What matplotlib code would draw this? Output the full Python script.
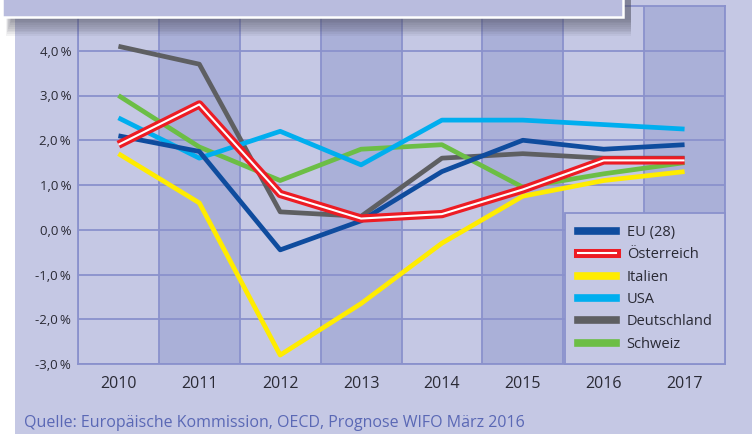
import numpy as np
import matplotlib
matplotlib.use('Agg')
import matplotlib.pyplot as plt
from matplotlib.lines import Line2D
from matplotlib.patches import Rectangle

plt.rcParams['font.family'] = ['Open Sans', 'DejaVu Sans']

# Daten: BIP-Wachstum in % gegenüber Vorjahr
jahre = ['2010', '2011', '2012', '2013', '2014', '2015', '2016', '2017']
eu = [2.1, 1.75, -0.45, 0.2, 1.3, 2.0, 1.8, 1.9]
oesterreich = [1.9, 2.8, 0.8, 0.25, 0.35, 0.9, 1.55, 1.55]
italien = [1.7, 0.6, -2.8, -1.65, -0.3, 0.75, 1.1, 1.3]
usa = [2.5, 1.6, 2.2, 1.45, 2.45, 2.45, 2.35, 2.25]
deutschland = [4.1, 3.7, 0.4, 0.3, 1.6, 1.7, 1.6, 1.6]
schweiz = [3.0, 1.85, 1.1, 1.8, 1.9, 0.95, 1.25, 1.5]
y_ticks = [-3, -2, -1, 0, 1, 2, 3, 4]

bg = '#C5C8E4'
dunkel = '#AAB0D8'
gitter = '#8A91CC'

fig = plt.figure(figsize=(7.52, 4.34), dpi=100)
fig.patch.set_facecolor('white')
fig.patches.append(Rectangle((15 / 752, 0), 1, 1, transform=fig.transFigure,
                             facecolor=bg, edgecolor='none', zorder=-10))

ax = fig.add_axes([78 / 752, 1 - 364 / 434, 647 / 752, 358 / 434])
ax.set_facecolor(bg)
x = np.arange(len(jahre))

# abwechselnd dunklere Spalten
for i in x:
    if i % 2 == 1:
        ax.axvspan(i - 0.5, i + 0.5, color=dunkel, zorder=0, lw=0)

for v in y_ticks:
    ax.axhline(v, color=gitter, lw=1.3, zorder=1)
for i in range(len(jahre) + 1):
    ax.axvline(i - 0.5, color=gitter, lw=1.3, zorder=1)

lw = 3.4
ax.plot(x, deutschland, color='#5E5F62', lw=lw, zorder=3, solid_capstyle='butt')
ax.plot(x, schweiz, color='#6CBE45', lw=lw, zorder=3, solid_capstyle='butt')
ax.plot(x, usa, color='#00AEEF', lw=lw, zorder=3, solid_capstyle='butt')
ax.plot(x, eu, color='#0F4C9E', lw=lw, zorder=4, solid_capstyle='butt')
ax.plot(x, italien, color='#FFEC00', lw=lw, zorder=4, solid_capstyle='butt')
ax.plot(x, oesterreich, color='#ED1C24', lw=6.0, zorder=5, solid_capstyle='butt')
ax.plot(x, oesterreich, color='white', lw=1.5, zorder=6, solid_capstyle='butt')

ax.set_xlim(-0.5, len(jahre) - 0.5)
ax.set_ylim(-3, 5)
ax.set_xticks(x)
ax.set_xticklabels(jahre, fontsize=11.5, color='#2A2A35')
ax.set_yticks(y_ticks)
ax.set_yticklabels([('%.1f' % v).replace('.', ',') + '\u2009%' for v in y_ticks],
                   fontsize=9.5, color='#2A2A35')
ax.tick_params(axis='both', length=0)
ax.tick_params(axis='x', pad=9)
ax.tick_params(axis='y', pad=5)
for s in ax.spines.values():
    s.set_color(gitter)
    s.set_linewidth(1.3)

handles = [
    Line2D([], [], color='#0F4C9E', lw=5.5),
    (Line2D([], [], color='#ED1C24', lw=6.5), Line2D([], [], color='white', lw=1.5)),
    Line2D([], [], color='#FFEC00', lw=5.5),
    Line2D([], [], color='#00AEEF', lw=5.5),
    Line2D([], [], color='#5E5F62', lw=5.5),
    Line2D([], [], color='#6CBE45', lw=5.5),
]
labels = ['EU (28)', 'Österreich', 'Italien', 'USA', 'Deutschland', 'Schweiz']
leg = ax.legend(handles, labels, loc='lower right', bbox_to_anchor=(1, 0),
                borderaxespad=0, fontsize=10.5, handlelength=2.6, handletextpad=0.75,
                labelspacing=0.5, borderpad=0.85, fancybox=False, framealpha=1,
                facecolor=bg, edgecolor=gitter, labelcolor='#2A2A35')
leg.get_frame().set_linewidth(1.3)
leg.set_zorder(10)

# Titelbox oben (abgeschnitten) mit Schatten
for k in range(10):
    fig.patches.append(Rectangle((6 / 752 + k * 0.6 / 752, 1 - (36 - k * 1.8) / 434),
                                 (625 - k * 0.6) / 752, 0.2, transform=fig.transFigure,
                                 facecolor='#4A4A5A', edgecolor='none', alpha=0.07, zorder=20))
fig.patches.append(Rectangle((2 / 752, 1 - 17 / 434), 621 / 752, 0.1, transform=fig.transFigure,
                             facecolor='#B9BCDE', edgecolor='white', lw=1.8, zorder=21))

fig.text(24 / 752, 1 - 423 / 434, 'Quelle: Europäische Kommission, OECD, Prognose WIFO März 2016',
         fontsize=11.5, color='#5A68B5', va='center', ha='left')

fig.savefig('out.png', dpi=100)
